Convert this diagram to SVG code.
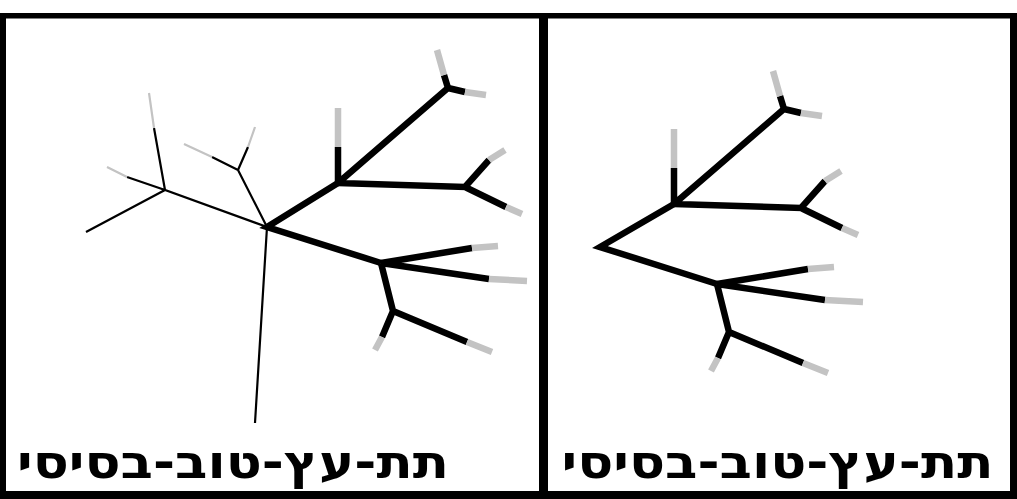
<svg xmlns="http://www.w3.org/2000/svg" xmlns:xlink="http://www.w3.org/1999/xlink" width="1017" height="499" viewBox="0 0 1017 499">
<style>
.bk{stroke:#000;fill:none;stroke-linecap:butt;stroke-linejoin:miter}
.gy{stroke:#c3c3c3;fill:none;stroke-linecap:butt}
.thick{stroke-width:6.5}
.thin{stroke-width:2.2}
.lbl{font-family:"DejaVu Sans","Noto Sans",sans-serif;font-weight:bold;font-size:46px;fill:#000}
</style>
<defs>
<g id="subtree">
<path class="bk thick" d="M338,183 L338,147 M338,183 L448,88 L444,75 M448,88 L465,92 M338,183 L465,187 L489,160 M465,187 L506,207"/>
<path class="gy thick" d="M338,147 L338,108 M444,75 L437,50 M465,92 L486,95 M489,160 L505,150 M506,207 L522,214"/>
<path class="bk thick" d="M381,263 L472,248 M381,263 L489,279 M381,263 L393,311 L382,337 M393,311 L467,342"/>
<path class="gy thick" d="M472,248 L498,246 M489,279 L527,281 M382,337 L375,350 M467,342 L492,352"/>
</g>
</defs>
<rect width="1017" height="499" fill="#fff"/>
<g id="frame" fill="#000">
<rect x="0" y="13" width="1017" height="5.5"/>
<rect x="0" y="13" width="6" height="486"/>
<rect x="1010" y="13" width="7" height="486"/>
<rect x="0" y="491" width="1017" height="8"/>
<rect x="539" y="13" width="9" height="486"/>
</g>
<g id="panel-left">
<g id="connectors-left">
<path class="bk thin" d="M267,227 L255,423 M267,227 L165,190 L86,232 M165,190 L154,128 M165,190 L127,177 M267,227 L238,170 L248,147 M238,170 L212,157"/>
<path class="gy thin" d="M154,128 L149,93 M127,177 L107,167 M248,147 L255,127 M212,157 L184,144"/>
<path class="bk thick" d="M338,183 L267,227 L381,263"/>
<use xlink:href="#subtree"/>
</g>
<g id="label-left"><text class="lbl" x="233" y="478" text-anchor="middle" direction="rtl" textLength="432" lengthAdjust="spacingAndGlyphs">תת-עץ-טוב-בסיסי</text></g>
</g>
<g id="panel-right">
<g id="connectors-right">
<path class="bk thick" d="M674,204 L600,247 L717,284"/>
<use xlink:href="#subtree" transform="translate(336,21)"/>
</g>
<g id="label-right"><text class="lbl" x="777.5" y="478" text-anchor="middle" direction="rtl" textLength="432" lengthAdjust="spacingAndGlyphs">תת-עץ-טוב-בסיסי</text></g>
</g>
</svg>
